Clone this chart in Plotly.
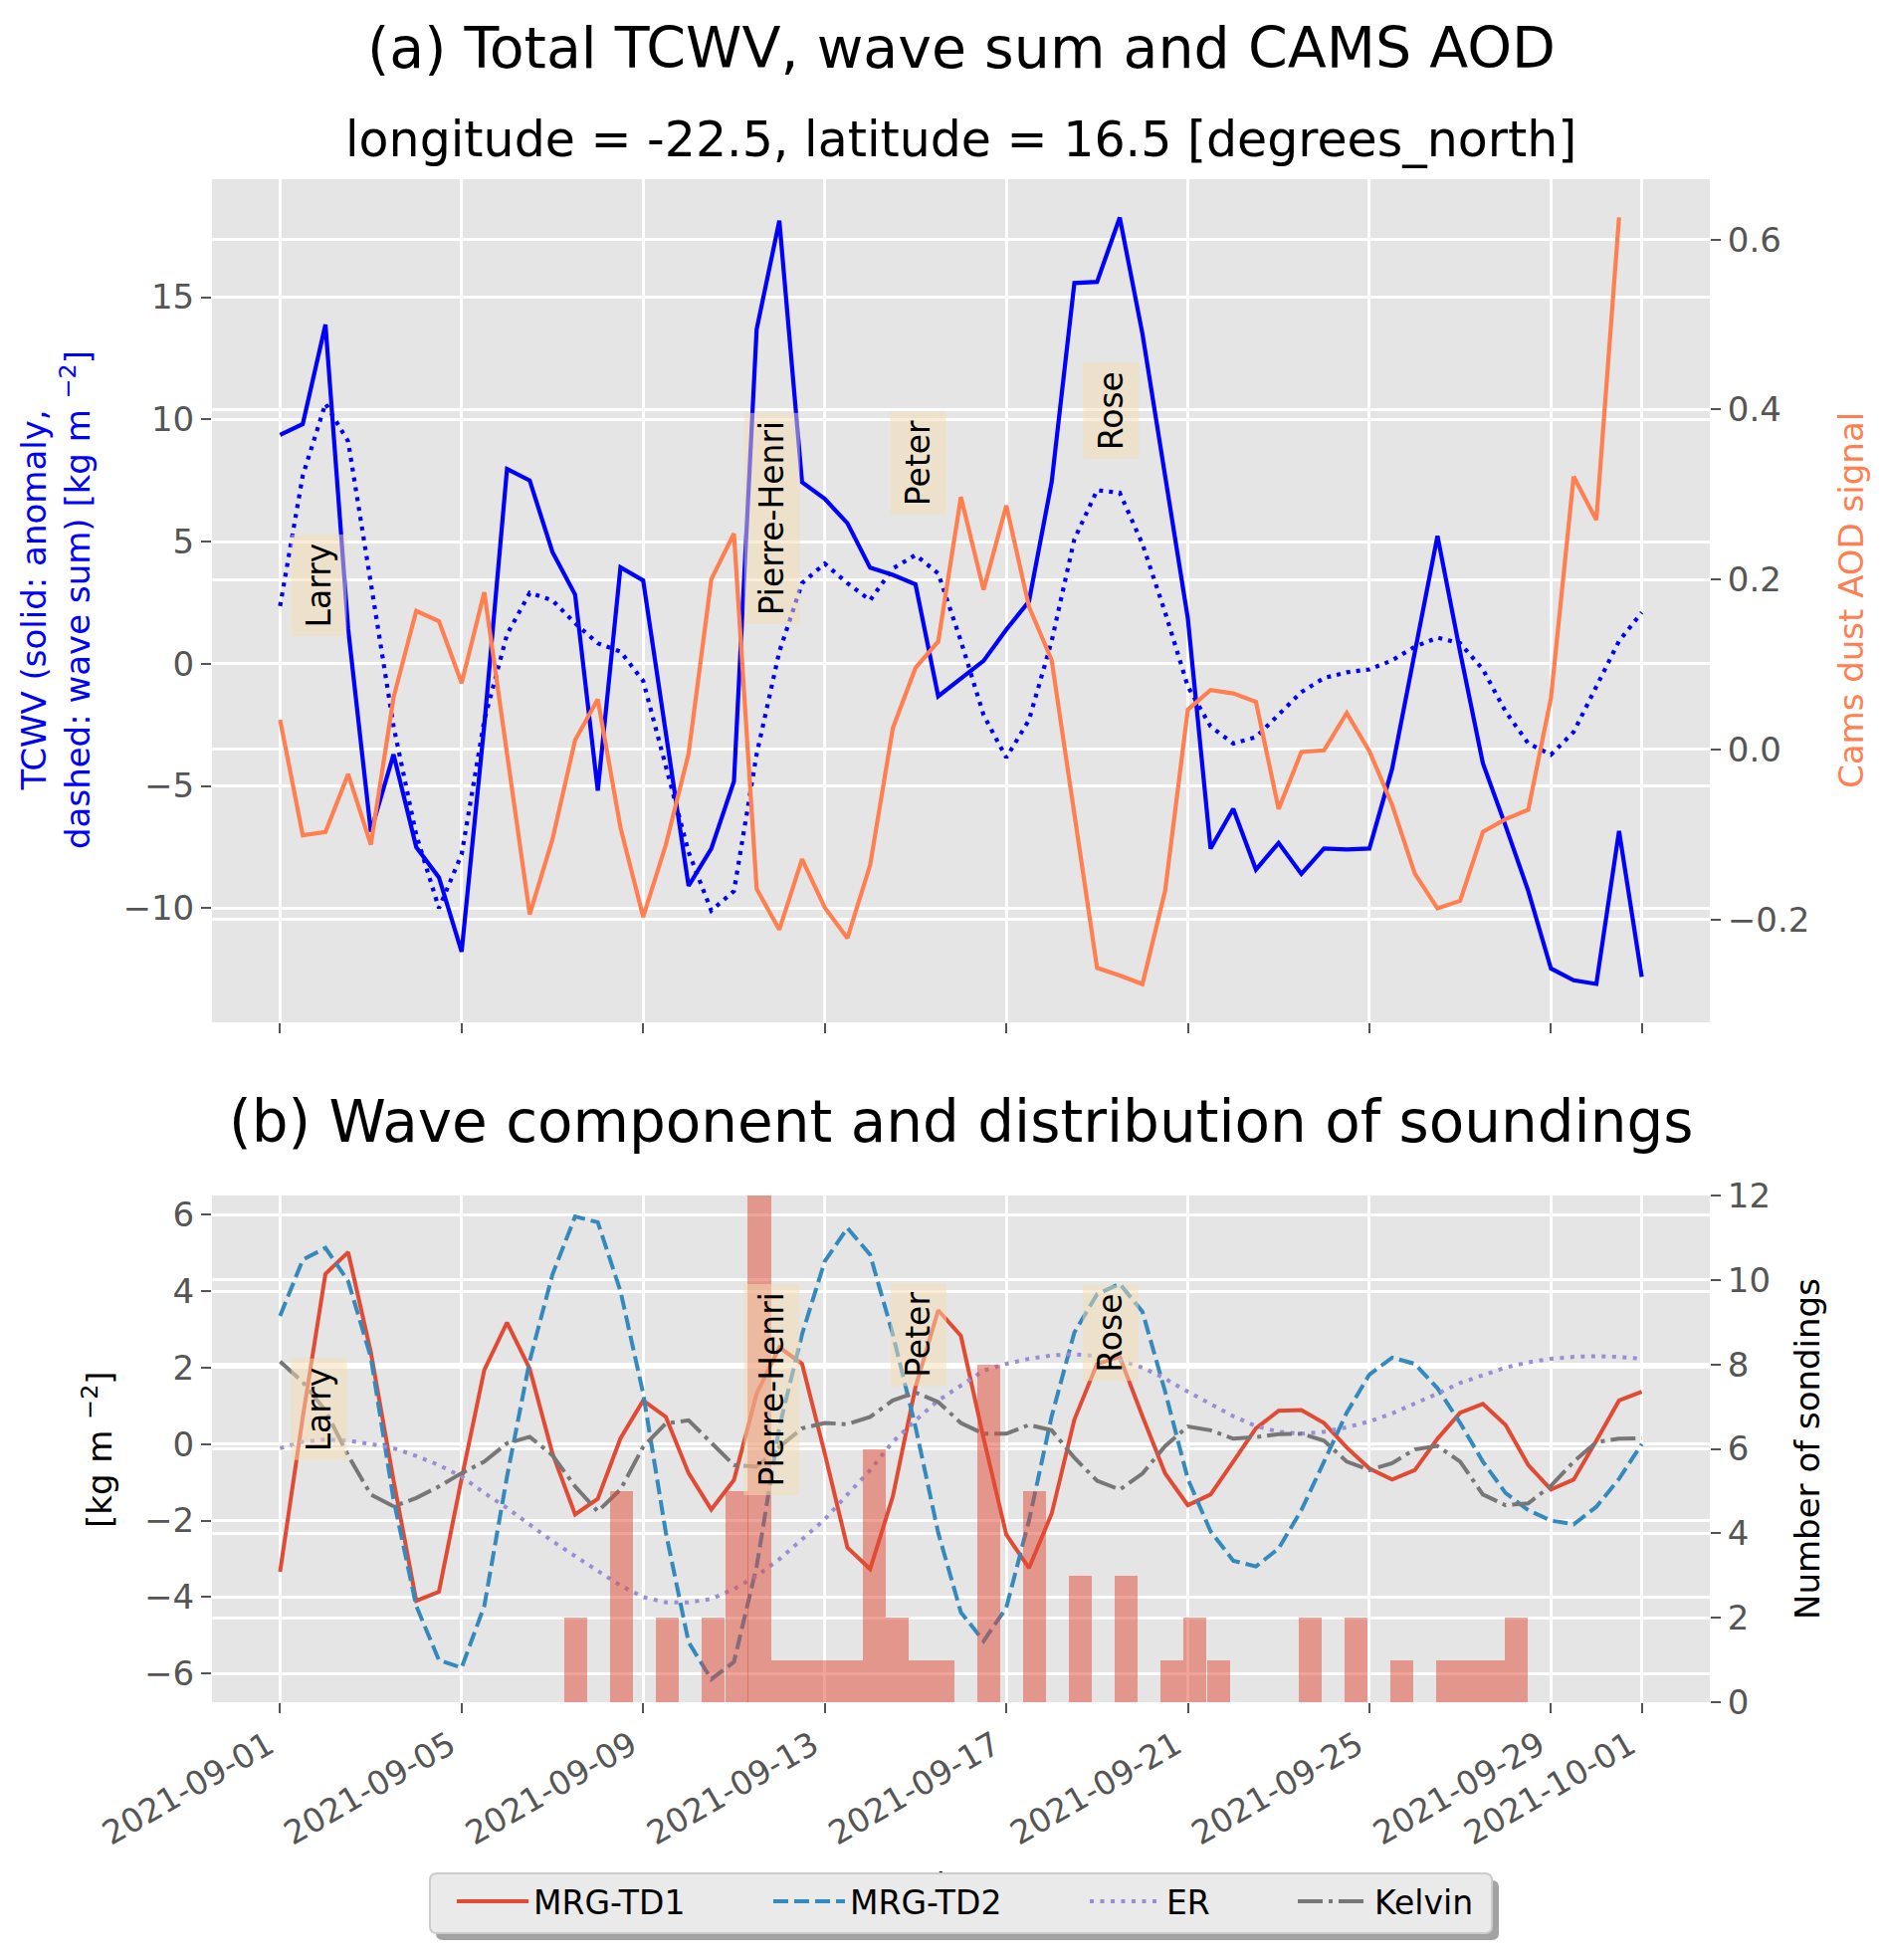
import pandas as pd
import plotly.graph_objects as go

# 12-hourly series, 2021-09-01 00:00 .. 2021-10-01 00:00 (61 steps)
times = pd.date_range("2021-09-01", "2021-10-01", freq="12h")

# panel (a)
tcwv_anomaly = [9.37, 9.81, 13.88, 1.43, -6.87, -3.71, -7.5, -8.74, -11.78, -2.5,
                7.97, 7.5, 4.58, 2.83, -5.19, 3.95, 3.41, -2.8, -9.09, -7.57,
                -4.81, 13.69, 18.13, 7.43, 6.75, 5.75, 3.93, 3.64, 3.25, -1.33,
                -0.58, 0.12, 1.4, 2.56, 7.44, 15.58, 15.63, 18.26, 13.5, 7.67,
                1.86, -7.56, -5.93, -8.42, -7.33, -8.6, -7.56, -7.6, -7.56, -4.3,
                0.47, 5.23, 0.47, -4.07, -6.63, -9.3, -12.47, -12.95, -13.1, -6.84,
                -12.81]
wave_sum = [2.36, 7.7, 10.65, 9.1, 3.3, -2.55, -7.0, -10.0, -7.8, -2.3,
            1.2, 2.9, 2.6, 1.66, 0.84, 0.5, -0.7, -4.2, -7.7, -10.1,
            -9.3, -3.7, 0.5, 3.3, 4.1, 3.3, 2.6, 3.9, 4.45, 3.7,
            0.93, -2.1, -3.84, -2.3, 0.93, 5.1, 7.1, 7.0, 4.9, 2.1,
            -0.93, -2.56, -3.26, -3.0, -2.1, -1.16, -0.58, -0.35, -0.23, 0.14,
            0.7, 1.07, 0.84, -0.23, -1.95, -3.26, -3.72, -2.79, -0.93, 0.93,
            2.1]
# CAMS AOD stops half a day earlier
cams_aod = [0.035, -0.101, -0.097, -0.029, -0.112, 0.061, 0.163, 0.151, 0.078, 0.185,
            -0.005, -0.194, -0.106, 0.011, 0.059, -0.092, -0.197, -0.112, -0.005, 0.2,
            0.254, -0.164, -0.212, -0.129, -0.186, -0.222, -0.136, 0.025, 0.096, 0.127,
            0.297, 0.188, 0.287, 0.168, 0.105, -0.075, -0.257, -0.266, -0.276, -0.166,
            0.047, 0.07, 0.066, 0.056, -0.07, -0.003, -0.001, 0.043, -0.002, -0.065,
            -0.146, -0.187, -0.178, -0.097, -0.082, -0.071, 0.061, 0.321, 0.27, 0.626]

# panel (b) wave components
mrg_td1 = [-3.34, 0.7, 4.45, 5.02, 2.4, -0.95, -4.1, -3.86, -0.9, 1.94,
           3.18, 1.97, -0.24, -1.84, -1.43, 0.15, 1.14, 0.71, -0.76, -1.71,
           -0.94, 1.32, 2.53, 2.1, -0.24, -2.71, -3.27, -1.37, 1.49, 3.5,
           2.83, 0.15, -2.37, -3.24, -1.82, 0.64, 2.1, 2.28, 0.73, -0.77,
           -1.6, -1.32, -0.46, 0.41, 0.87, 0.89, 0.55, -0.09, -0.64, -0.93,
           -0.68, 0.14, 0.82, 1.05, 0.5, -0.55, -1.19, -0.93, 0.09, 1.14,
           1.37]
mrg_td2 = [3.35, 4.82, 5.13, 4.26, 2.27, -1.45, -4.23, -5.65, -5.85, -4.23,
           -0.85, 2.18, 4.43, 5.95, 5.8, 4.0, 1.32, -2.32, -5.18, -6.15,
           -5.7, -3.2, 0.45, 2.87, 4.78, 5.65, 4.95, 2.87, 0.45, -2.32,
           -4.4, -5.15, -4.28, -2.0, 0.73, 2.92, 3.92, 4.19, 3.46, 1.37,
           -0.91, -2.28, -3.05, -3.2, -2.73, -1.73, -0.46, 0.82, 1.82, 2.26,
           2.1, 1.46, 0.55, -0.46, -1.28, -1.73, -2.0, -2.1, -1.64, -0.91,
           0.0]
er_wave = [-0.11, 0.06, 0.12, 0.09, 0.0, -0.11, -0.31, -0.55, -0.85, -1.28,
           -1.67, -2.1, -2.54, -2.93, -3.3, -3.7, -4.0, -4.14, -4.14, -4.05,
           -3.79, -3.45, -3.01, -2.49, -1.97, -1.32, -0.68, 0.06, 0.62, 1.14,
           1.53, 1.92, 2.1, 2.23, 2.32, 2.35, 2.3, 2.19, 2.0, 1.71,
           1.37, 1.05, 0.73, 0.47, 0.32, 0.27, 0.32, 0.44, 0.59, 0.8,
           1.05, 1.32, 1.6, 1.8, 2.0, 2.14, 2.23, 2.28, 2.3, 2.28,
           2.23]
kelvin = [2.16, 1.62, 0.88, -0.3, -1.32, -1.63, -1.41, -1.11, -0.76, -0.46,
          0.02, 0.19, -0.29, -1.11, -1.76, -1.19, -0.07, 0.54, 0.62, 0.02,
          -0.55, -0.59, -0.07, 0.41, 0.55, 0.52, 0.71, 1.14, 1.35, 1.1,
          0.55, 0.27, 0.27, 0.5, 0.36, -0.36, -0.96, -1.19, -0.77, -0.05,
          0.46, 0.36, 0.14, 0.18, 0.26, 0.27, 0.09, -0.46, -0.68, -0.5,
          -0.14, -0.05, -0.46, -1.32, -1.6, -1.55, -1.09, -0.46, 0.05, 0.14,
          0.15]

# soundings histogram: bin centres (days after 2021-09-01) and counts
sounding_bin_days = [6.52, 7.53, 8.54, 9.55, 10.06, 10.56, 11.07, 11.57, 12.08, 12.59,
                     13.09, 13.60, 14.10, 14.61, 15.62, 16.63, 17.64, 18.65, 19.65, 20.16,
                     20.67, 22.69, 23.70, 24.71, 25.72, 26.23, 26.74, 27.24]
sounding_counts = [2, 5, 2, 2, 5, 12, 1, 1, 1, 1,
                   6, 2, 1, 1, 8, 5, 3, 3, 1, 2,
                   1, 2, 2, 1, 1, 1, 1, 2]
bin_width_days = 0.5056

# storms marked in both panels
storm_names = ["Larry", "Pierre-Henri", "Peter", "Rose"]
storm_days = [0.85, 10.84, 14.06, 18.3]
storm_y_top = [3.2, 5.96, 8.2, 10.33]
storm_y_bottom = [0.9, 1.43, 2.85, 2.89]

date_ticks = ["2021-09-01", "2021-09-05", "2021-09-09", "2021-09-13", "2021-09-17",
              "2021-09-21", "2021-09-25", "2021-09-29", "2021-10-01"]

W, H = 1892, 1969
FONT = "DejaVu Sans"
GRAY = "#555555"
BG = "#E5E5E5"


def px(x):
    return x / W


def py(y):
    return 1 - y / H


def rounded_box(x0, y0, x1, y1, r=7):
    # svg path in paper units, pixel inputs
    rx, ry = r / W, r / H
    a, b, c, d = px(x0), py(y1), px(x1), py(y0)
    return (f"M{a + rx},{b} L{c - rx},{b} Q{c},{b} {c},{b + ry} L{c},{d - ry} "
            f"Q{c},{d} {c - rx},{d} L{a + rx},{d} Q{a},{d} {a},{d - ry} "
            f"L{a},{b + ry} Q{a},{b} {a + rx},{b} Z")


t0 = pd.Timestamp("2021-09-01")
bar_x = t0 + pd.to_timedelta(sounding_bin_days, unit="D")
storm_x = t0 + pd.to_timedelta(storm_days, unit="D")
x_range = [t0 - pd.Timedelta(hours=36), t0 + pd.Timedelta(days=31, hours=12)]

fig = go.Figure()

fig.add_trace(go.Scatter(x=times, y=tcwv_anomaly, mode="lines", xaxis="x", yaxis="y",
                         line=dict(color="blue", width=4.2), showlegend=False))
fig.add_trace(go.Scatter(x=times, y=wave_sum, mode="lines", xaxis="x", yaxis="y",
                         line=dict(color="blue", width=4.2, dash="4px,6px"), showlegend=False))
fig.add_trace(go.Scatter(x=times[:len(cams_aod)], y=cams_aod, mode="lines", xaxis="x", yaxis="y2",
                         line=dict(color="coral", width=4.2), showlegend=False))

# one legend per entry so the columns sit where the reference has them
fig.add_trace(go.Scatter(x=times, y=mrg_td1, mode="lines", name="MRG-TD1", xaxis="x2", yaxis="y3",
                         line=dict(color="#E24A33", width=4), legend="legend"))
fig.add_trace(go.Scatter(x=times, y=mrg_td2, mode="lines", name="MRG-TD2", xaxis="x2", yaxis="y3",
                         line=dict(color="#348ABD", width=4, dash="15px,6px"), legend="legend2"))
fig.add_trace(go.Scatter(x=times, y=er_wave, mode="lines", name="ER", xaxis="x2", yaxis="y3",
                         line=dict(color="#988ED5", width=4, dash="4px,6.5px"), legend="legend3"))
fig.add_trace(go.Scatter(x=times, y=kelvin, mode="lines", name="Kelvin", xaxis="x2", yaxis="y3",
                         line=dict(color="#777777", width=4, dash="25px,6px,4px,6px"), legend="legend4"))
fig.add_trace(go.Bar(x=bar_x, y=sounding_counts, width=bin_width_days * 86400000,
                     xaxis="x2", yaxis="y4", showlegend=False,
                     marker=dict(color="rgba(226,74,51,0.5)", line=dict(width=0))))

xdom = [px(213), px(1718)]
common_x = dict(range=x_range, tickvals=date_ticks, ticks="outside", ticklen=10, tickwidth=2,
                tickcolor=GRAY, showgrid=True, gridcolor="white", gridwidth=2.5,
                zeroline=False, showline=False, domain=xdom, automargin=False)
common_y = dict(ticks="outside", ticklen=10, tickwidth=2, tickcolor=GRAY, showgrid=True,
                gridcolor="white", gridwidth=2.5, zeroline=False, showline=False, automargin=False,
                tickfont=dict(size=34, color=GRAY, family=FONT))

legend_style = dict(y=py(1910), xanchor="left", yanchor="middle", bgcolor="rgba(0,0,0,0)",
                    borderwidth=0, itemwidth=72, font=dict(size=33, color="black", family=FONT))

fig.update_layout(
    width=W, height=H,
    margin=dict(l=0, r=0, t=0, b=0),
    paper_bgcolor="white", plot_bgcolor=BG,
    font=dict(family=FONT, size=34, color="black"),
    bargap=0,
    xaxis=dict(anchor="y", showticklabels=False, **common_x),
    yaxis=dict(domain=[py(1027), py(180)], range=[-14.67, 19.83], tick0=0, dtick=5, **common_y),
    yaxis2=dict(overlaying="y", side="right", anchor="x", range=[-0.321, 0.671], tick0=0, dtick=0.2,
                tickformat=".1f", **common_y),
    xaxis2=dict(anchor="y3", tickformat="%Y-%m-%d", tickangle=-30, ticklabelshift=-12,
                tickfont=dict(size=33, color=GRAY, family=FONT), **common_x),
    yaxis3=dict(domain=[py(1710), py(1201)], range=[-6.75, 6.5], tick0=0, dtick=2, **common_y),
    yaxis4=dict(overlaying="y3", side="right", anchor="x2", range=[0, 12], tick0=0, dtick=2, **common_y),
    legend=dict(x=px(454), **legend_style),
    legend2=dict(x=px(772), **legend_style),
    legend3=dict(x=px(1090), **legend_style),
    legend4=dict(x=px(1299), **legend_style),
)

# x-axis label "time" sits behind the legend frame, as in the reference
fig.add_shape(type="rect", xref="paper", yref="paper",
              x0=px(905), x1=px(1026), y0=py(1910), y1=py(1874),
              line=dict(width=0), fillcolor="rgba(0,0,0,0)",
              label=dict(text="time", textposition="middle center",
                         font=dict(size=34, color="black", family=FONT)))
# legend frame with drop shadow
fig.add_shape(type="path", xref="paper", yref="paper", path=rounded_box(438, 1889, 1506, 1949),
              fillcolor="#A2A2A2", line=dict(width=0))
fig.add_shape(type="path", xref="paper", yref="paper", path=rounded_box(432, 1882, 1499, 1942),
              fillcolor="#EAEAEA", line=dict(color="#CCCCCC", width=2))

# titles and axis labels
xc = px(965.5)
texts = [
    dict(text="(a) Total TCWV, wave sum and CAMS AOD", x=xc, y=py(48), size=57, color="black", angle=0),
    dict(text="longitude = -22.5, latitude = 16.5 [degrees_north]", x=xc, y=py(141), size=49, color="black", angle=0),
    dict(text="(b) Wave component and distribution of soundings", x=xc, y=py(1127), size=58, color="black", angle=0),
    dict(text="TCWV (solid: anomaly,<br>dashed: wave sum) [kg m <sup>\u22122</sup>]", x=px(56), y=py(603),
         size=34, color="blue", angle=-90),
    dict(text="Cams dust AOD signal", x=px(1860), y=py(603), size=34, color="coral", angle=-90),
    dict(text="[kg m <sup>\u22122</sup>]", x=px(98), y=py(1456), size=34, color="black", angle=-90),
    dict(text="Number of sondings", x=px(1816), y=py(1456), size=34, color="black", angle=-90),
]
for t in texts:
    fig.add_annotation(text=t["text"], x=t["x"], y=t["y"], xref="paper", yref="paper",
                       xanchor="center", yanchor="middle", showarrow=False, textangle=t["angle"],
                       font=dict(size=t["size"], color=t["color"], family=FONT))

# storm labels
for name, sx, y_top, y_bot in zip(storm_names, storm_x, storm_y_top, storm_y_bottom):
    for xr, yr, yv in (("x", "y", y_top), ("x2", "y3", y_bot)):
        fig.add_annotation(text=name, x=sx, y=yv, xref=xr, yref=yr, showarrow=False,
                           textangle=-90, xanchor="center", yanchor="middle",
                           bgcolor="rgba(245,222,179,0.5)", borderpad=8,
                           font=dict(size=33, color="black", family=FONT))

# page body margin would otherwise offset the figure by a few pixels
fig.write_html("out.html", config={"displayModeBar": False},
               post_script="document.body.style.margin='0';")
